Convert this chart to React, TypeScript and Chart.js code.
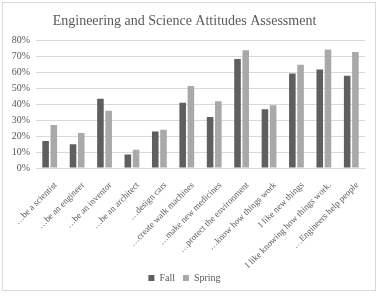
import React, { useEffect, useRef } from "react";
import { Chart, registerables } from "chart.js";

Chart.register(...registerables);

const categories = [
  "…be a scientist",
  "…be an engineer",
  "…be an inventor",
  "…be an architect",
  "…design cars",
  "…create walk machines",
  "…make new medicines",
  "…protect the environment",
  "…know how things work",
  "I like new things",
  "I like knowing how things work.",
  "…Engineers help people",
];
const fallValues = [17, 15, 43.5, 8.5, 23, 41, 32, 68.5, 37, 59.5, 62, 58];
const springValues = [27, 22, 36, 11.5, 24, 51.5, 42, 74, 39.5, 65, 74.5, 73];
const yTicks = [0, 10, 20, 30, 40, 50, 60, 70, 80];

const FONT = "'Liberation Serif', 'Times New Roman', serif";
const TEXT = "#595959";

const borderPlugin = {
  id: "outerBorder",
  beforeDraw(chart: any) {
    const ctx = chart.ctx;
    ctx.save();
    ctx.fillStyle = "#ffffff";
    ctx.fillRect(0, 0, chart.width, chart.height);
    ctx.strokeStyle = "#d9d9d9";
    ctx.lineWidth = 1;
    ctx.strokeRect(2.5, 2.5, 373, 288);
    ctx.restore();
  },
};

export default function App() {
  const ref = useRef<HTMLCanvasElement | null>(null);
  useEffect(() => {
    document.body.style.margin = "0";
    const chart = new Chart(ref.current as HTMLCanvasElement, {
      type: "bar",
      data: {
        labels: categories,
        datasets: [
          { label: "Fall", data: fallValues, backgroundColor: "#5f5f5f" },
          { label: "Spring", data: springValues, backgroundColor: "#a9a9a9" },
        ],
      },
      plugins: [borderPlugin],
      options: {
        animation: false,
        responsive: false,
        maintainAspectRatio: false,
        datasets: { bar: { categoryPercentage: 0.6, barPercentage: 0.8 } },
        layout: { padding: { left: 4, right: 16, top: 4, bottom: 3 } },
        plugins: {
          title: {
            display: true,
            text: "Engineering and Science Attitudes Assessment",
            color: TEXT,
            font: { family: FONT, size: 14, weight: "normal" },
            padding: { top: 9, bottom: 11 },
          },
          legend: {
            position: "bottom",
            labels: {
              color: TEXT,
              font: { family: FONT, size: 10 },
              boxWidth: 6,
              boxHeight: 6,
              padding: 8,
            },
          },
          tooltip: { enabled: false },
        },
        scales: {
          x: {
            afterFit: (s: any) => {
              s.height = 97;
              s._computeLabelArea = () => undefined;
            },
            grid: { display: false },
            border: { color: "#d9d9d9" },
            ticks: {
              color: TEXT,
              font: { family: FONT, size: 9 },
              minRotation: 45,
              maxRotation: 45,
              autoSkip: false,
              padding: 4,
              labelOffset: 6,
            },
          },
          y: {
            min: 0,
            max: 80,
            afterFit: (s: any) => {
              s.width = 32;
            },
            afterBuildTicks: (s: any) => {
              s.ticks = yTicks.map((v) => ({ value: v }));
            },
            grid: { color: "#d9d9d9", drawTicks: false },
            border: { display: false },
            ticks: {
              color: TEXT,
              font: { family: FONT, size: 10 },
              padding: 6,
              autoSkip: false,
              callback: (v: any) => v + "%",
            },
          },
        },
      },
    });
    return () => chart.destroy();
  }, []);
  return (
    <div style={{ position: "absolute", left: 0, top: 0, width: 381, height: 296 }}>
      <canvas ref={ref} width={381} height={296} />
    </div>
  );
}
